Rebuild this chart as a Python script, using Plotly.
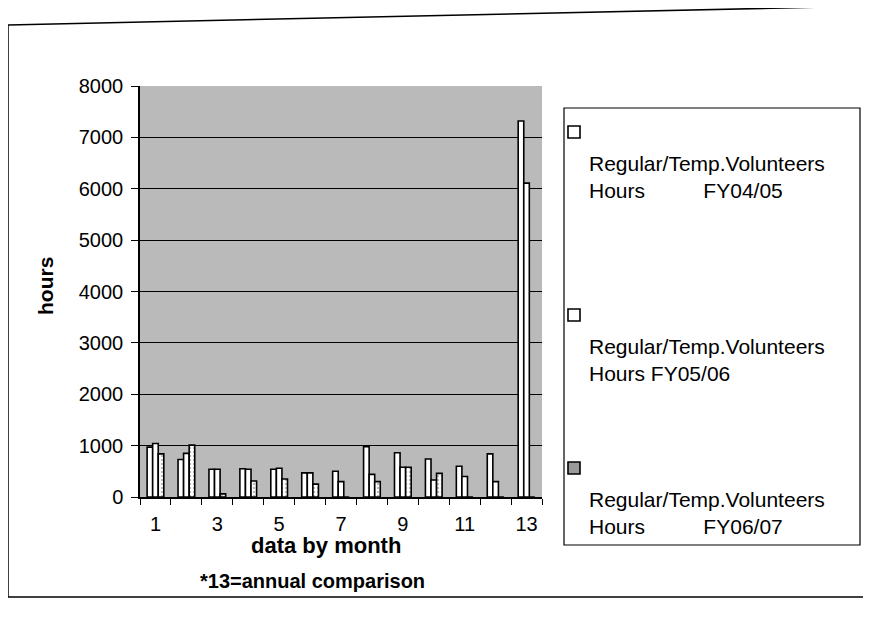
import plotly.graph_objects as go

months = list(range(1, 14))
month_tick_labels = ["1", "3", "5", "7", "9", "11", "13"]
legend_line1 = ["Regular/Temp.Volunteers"] * 3
legend_line2 = [
    "Hours\u00a0\u00a0\u00a0\u00a0\u00a0\u00a0\u00a0\u00a0\u00a0\u00a0FY04/05",
    "Hours FY05/06",
    "Hours\u00a0\u00a0\u00a0\u00a0\u00a0\u00a0\u00a0\u00a0\u00a0\u00a0FY06/07",
]
fy0405 = [970, 730, 540, 550, 540, 470, 500, 980, 860, 740, 600, 840, 7320]
fy0506 = [1040, 850, 540, 540, 560, 470, 300, 440, 580, 330, 400, 300, 6110]
fy0607 = [840, 1010, 60, 310, 350, 250, 0, 300, 580, 460, 0, 0, 0]

OFF = 8  # page body margin
W, H = 871 - OFF, 630 - OFF
L, R, T, B = 140 - OFF, 542 - OFF, 86 - OFF, 497 - OFF
FONT = "Liberation Sans, Arial, sans-serif"


def px(x):
    return (x - OFF - L) / (R - L)


def py(y):
    return (B - (y - OFF)) / (B - T)


fig = go.Figure()
fills = [
    dict(color="white", line=dict(color="black", width=1.6)),
    dict(color="white", line=dict(color="black", width=1.6)),
    dict(color="white", line=dict(color="black", width=1.6),
         pattern=dict(shape=".", fgcolor="#777", size=4, solidity=0.3)),
]
for name, vals, mk in zip(legend_line2, [fy0405, fy0506, fy0607], fills):
    fig.add_trace(go.Bar(x=months, y=vals, name=name, marker=mk, showlegend=False))

fig.update_layout(
    width=W, height=H, autosize=False,
    margin=dict(l=L, r=W - R, t=T, b=H - B, pad=0),
    paper_bgcolor="white", plot_bgcolor="#bababa",
    barmode="group", bargap=0.46, bargroupgap=0,
    font=dict(family=FONT, color="black"),
    xaxis=dict(
        range=[0.5, 13.5], tickvals=[1, 3, 5, 7, 9, 11, 13], ticktext=month_tick_labels,
        ticks="", showgrid=False, zeroline=False, showline=True, linecolor="black", linewidth=1.5,
        tickfont=dict(size=20), ticklabelstandoff=8,
        minor=dict(ticks="outside", tick0=0.5, dtick=1, ticklen=6, tickcolor="black", tickwidth=1.2, showgrid=False),
    ),
    yaxis=dict(
        range=[0, 8000], dtick=1000, showgrid=True, gridcolor="black", gridwidth=1,
        zeroline=False, showline=True, linecolor="black", linewidth=1.5,
        ticks="outside", ticklen=7, tickcolor="black", tickfont=dict(size=20), ticklabelstandoff=4,
    ),
)

ann = []
ann.append(dict(x=px(45), y=py(286), xref="paper", yref="paper", text="<b>hours</b>", textangle=-90,
                showarrow=False, font=dict(size=21), xanchor="center", yanchor="middle"))
ann.append(dict(x=px(326), y=py(545), xref="paper", yref="paper", text="<b>data by month</b>",
                showarrow=False, font=dict(size=22), xanchor="center", yanchor="middle"))
ann.append(dict(x=px(312), y=py(581), xref="paper", yref="paper", text="<b>*13=annual comparison</b>",
                showarrow=False, font=dict(size=20), xanchor="center", yanchor="middle"))

shapes = []
# outer frame
shapes.append(dict(type="line", xref="paper", yref="paper", x0=px(8), y0=py(25), x1=px(872), y1=py(6),
                   line=dict(color="black", width=1.5)))
shapes.append(dict(type="line", xref="paper", yref="paper", x0=px(8), y0=py(25), x1=px(8), y1=py(597),
                   line=dict(color="black", width=1.5)))
shapes.append(dict(type="line", xref="paper", yref="paper", x0=px(8), y0=py(597), x1=px(872), y1=py(597),
                   line=dict(color="black", width=1.5)))
# legend box
shapes.append(dict(type="rect", xref="paper", yref="paper", x0=px(564), y0=py(108), x1=px(860), y1=py(545),
                   line=dict(color="black", width=1.2), fillcolor="white"))

legend_y = [132, 315, 468]
for i, (l1, l2, ys) in enumerate(zip(legend_line1, legend_line2, legend_y)):
    fc = "white" if i < 2 else "#9a9a9a"
    shapes.append(dict(type="rect", xref="paper", yref="paper", x0=px(568), y0=py(ys - 6), x1=px(580), y1=py(ys + 6),
                       line=dict(color="black", width=1.6), fillcolor=fc))
    ann.append(dict(x=px(587), y=py(ys + 18), xref="paper", yref="paper", text=l1 + "<br>" + l2, align="left",
                    showarrow=False, font=dict(size=21), xanchor="left", yanchor="top"))

fig.update_layout(annotations=ann, shapes=shapes)
fig.write_html("out.html")
